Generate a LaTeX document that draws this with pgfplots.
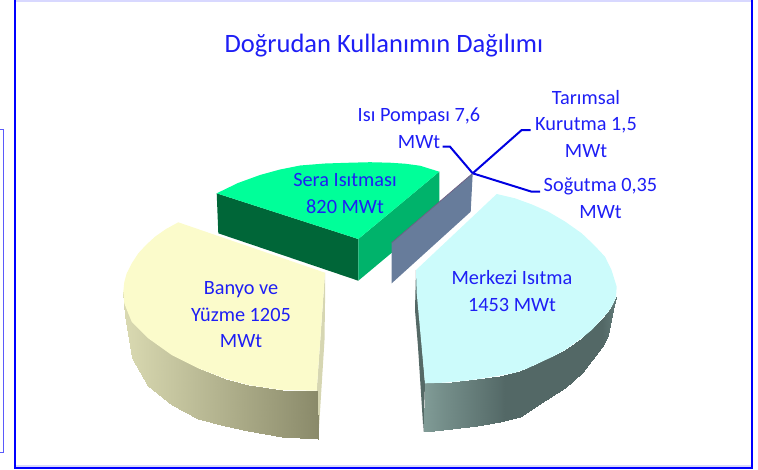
\documentclass[border=0pt]{standalone}
\usepackage{pgfplots}
\pgfplotsset{compat=1.18}
\usepackage{fontspec}
\setmainfont{Carlito}
\definecolor{lbl}{RGB}{30,30,245}
\definecolor{lead}{RGB}{0,0,225}
\tikzset{lab/.style={text=lbl, align=center, font=\fontsize{20.3}{26.5}\selectfont, inner sep=0pt}}
\begin{document}
\begin{tikzpicture}
\begin{axis}[
  scale only axis, width=758pt, height=469pt,
  xmin=0, xmax=758, ymin=0, ymax=469, y dir=reverse,
  axis lines=none, enlargelimits=false,
  point meta min=0, point meta max=1,
  colormap={yel}{rgb255(0cm)=(218,218,178) rgb255(1cm)=(138,138,106)},
  colormap={blu}{rgb255(0cm)=(128,155,150) rgb255(4cm)=(83,104,102) rgb255(9cm)=(83,104,102) rgb255(10cm)=(98,122,120)},
]
\path (axis cs:0,0) -- (axis cs:758,469);
% frames
\addplot[draw={rgb,255:red,216;green,216;blue,255}, line width=1.5pt] coordinates {(15,0.8) (751,0.8)};
\addplot[draw={rgb,255:red,216;green,216;blue,255}, line width=1.5pt] coordinates {(15,465.8) (751,465.8)};
\addplot[draw=blue, line width=2pt] coordinates {(15,0) (15,467.6) (751.6,467.6) (751.6,0)};
\addplot[draw={rgb,255:red,90;green,90;blue,250}, line width=1.6pt] coordinates {(0,129.5) (3.6,129.5) (3.6,452.5) (0,452.5)};

% yellow slice
\addplot[draw=none, fill={rgb,255:red,214;green,214;blue,178}] coordinates {(325,272.7) (316.7,390.7) (318.3,439) (324.5,340) (325,303)};
\addplot[surf, shader=interp, colormap name=yel, mesh/rows=2, mesh/ordering=y varies, point meta=explicit]
  table[x=x, y=y, meta=c] {
x y c
123.3 292 0
123.3 292 0
125 305 0.01
125 316 0.01
126.7 309.5 0.02
126.7 328.3 0.02
131.7 321.7 0.045
131.7 358 0.045
148.3 338.3 0.13
148.3 385.5 0.13
171.7 355 0.25
171.7 405 0.25
198.3 368.3 0.385
198.3 418.7 0.385
225 378.5 0.52
225 425.5 0.52
248.3 385 0.64
248.3 430.7 0.64
281.7 390 0.81
281.7 436.7 0.81
316.7 390.7 1
318.3 439 1
};
\addplot[draw=none, fill={rgb,255:red,251;green,251;blue,203}] coordinates {
 (178.3,222.3) (325,272.7) (316.7,390.7) (281.7,390) (248.3,385) (225,378.5) (198.3,368.3) (171.7,355) (148.3,338.3) (131.7,321.7) (126.7,309.5) (124.3,303.3) (123.3,291.7) (124.3,282) (126.7,273.3) (132,263) (138.3,253.3) (146,245) (155,236.7) (166,229)};

% green slice
\addplot[draw=none, fill={rgb,255:red,0;green,102;blue,56}] coordinates {(216.7,193.3) (218.3,233.3) (358.3,280.7) (358.3,239)};
\addplot[draw=none, fill={rgb,255:red,0;green,179;blue,107}] coordinates {(358.3,239) (439.3,171.7) (439.3,213) (358.3,280.7)};
\addplot[draw=none, fill={rgb,255:red,0;green,255;blue,153}] coordinates {
 (216.7,193.3) (238,183) (260,175) (280,169.5) (300,165.5) (325,163.5) (350,162.7) (370,162.2) (390,162.7) (405,163.7) (420,165.7) (439.3,171.7) (358.3,239)};

% small slices
\addplot[draw=none, fill={rgb,255:red,103;green,124;blue,155}] coordinates {(472.7,173.3) (470.7,211.7) (391.7,283.3) (391.7,242.7)};
\addplot[draw={rgb,255:red,110;green,95;blue,130}, line width=0.7pt] coordinates {(391.7,242.7) (472.7,173.3)};

% blue slice
\addplot[draw=none, fill={rgb,255:red,85;green,105;blue,102}] coordinates {(416,270) (425,383.3) (423.5,431.7) (418,346.7) (415,310)};
\addplot[surf, shader=interp, colormap name=blu, mesh/rows=2, mesh/ordering=y varies, point meta=explicit]
  table[x=x, y=y, meta=c] {
x y c
425 383.3 0
423.5 431.7 0
443.3 382.7 0.1
443.3 430 0.1
476.7 379.3 0.26
476.7 426 0.26
500 375.5 0.37
500 421.5 0.37
520 371 0.5
520 416.5 0.5
538.3 363.3 0.58
538.3 405 0.58
565 350 0.7
565 387.6 0.7
581.7 338 0.8
581.7 373.3 0.8
601.7 319 0.9
601.7 346.7 0.9
608.3 311.7 0.94
608.3 334.8 0.94
613 304.3 0.98
613 310 0.98
616 296.7 1
616 296.7 1
};
\addplot[draw=none, fill={rgb,255:red,204;green,251;blue,251}] coordinates {
 (496.7,194) (515,198.3) (532,204.5) (548.3,211.7) (565,221.5) (581.7,233.3) (594,245) (605,256.7) (611.5,270) (616.7,286.7) (616,296.7) (613,304.3) (608.3,311.7) (601.7,319) (591.7,330) (581.7,338) (565,350) (552,357) (538.3,363.3) (527,368.5) (515,372.7) (500,375.5) (476.7,379.3) (460,381.2) (443.3,382.7) (425,383.3) (416.7,293) (416,270)};

% leaders
\addplot[draw=lead, line width=2pt] coordinates {(442.7,146.7) (450,146.7) (472.7,173.3)};
\addplot[draw=lead, line width=2pt] coordinates {(530.7,130) (521.7,130) (472.7,173.3)};
\addplot[draw=lead, line width=2pt] coordinates {(540,191.7) (531.7,191.7) (472.7,173.3)};

% text
\node[lab, font=\fontsize{26.5}{30}\selectfont] at (axis cs:384,46) {Doğrudan Kullanımın Dağılımı};
\node[lab] at (axis cs:345,193.5) {Sera Isıtması\\820 MWt};
\node[lab] at (axis cs:419,128) {Isı Pompası 7,6\\MWt};
\node[lab] at (axis cs:586,124) {Tarımsal\\Kurutma 1,5\\MWt};
\node[lab] at (axis cs:600.5,198) {Soğutma 0,35\\MWt};
\node[lab] at (axis cs:512,291) {Merkezi Isıtma\\1453 MWt};
\node[lab] at (axis cs:241,315) {Banyo ve\\Yüzme 1205\\MWt};
\end{axis}
\end{tikzpicture}
\end{document}
